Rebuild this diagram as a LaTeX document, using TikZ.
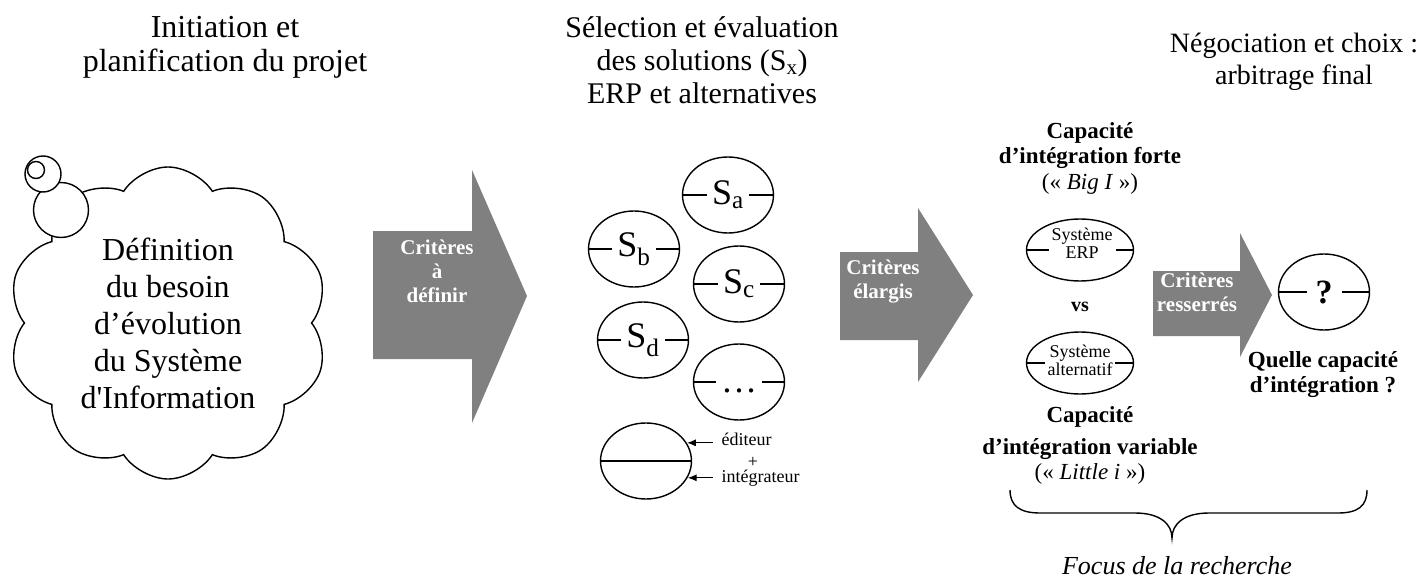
\documentclass[tikz,border=0pt]{standalone}
\usepackage{fontspec}
\setmainfont{Liberation Serif}[Ligatures=TeXOff]
\usepackage{tikz}
\usetikzlibrary{positioning,shapes.geometric,shapes.symbols,arrows.meta}

\definecolor{gris}{RGB}{128,128,128}

\tikzset{
  titre/.style={align=center,font=\fontsize{30}{33}\selectfont},
  fleche/.style={fill=gris},
  critere/.style={align=center,text=white,font=\bfseries\fontsize{21}{24}\selectfont},
  sol/.style={ellipse,draw,line width=1.4pt,minimum width=91pt,minimum height=76pt,inner sep=0pt},
  solnom/.style={fill=white,inner xsep=5pt,inner ysep=1pt,font=\fontsize{36}{36}\selectfont},
  systeme/.style={ellipse,draw,line width=1.4pt,minimum width=107pt,minimum height=62pt,inner sep=0pt},
  sysnom/.style={fill=white,align=center,inner xsep=3pt,inner ysep=0pt,font=\fontsize{18}{18}\selectfont},
  capa/.style={align=center,font=\bfseries\fontsize{23}{25}\selectfont},
  legende/.style={inner sep=0pt,font=\fontsize{18}{18}\selectfont},
  legfleche/.style={-{Latex[length=9pt,width=7pt]},line width=1.2pt}
}

\begin{document}
\begin{tikzpicture}[x=1pt,y=-1pt,line width=1.4pt]
\useasboundingbox (0,0) rectangle (1417,583);

% titres des trois phases
\node[titre,font=\fontsize{32}{34}\selectfont] (t1) at (225,47) {Initiation et\\planification du projet};
\node[titre] (t2) at (702,60) {Sélection et évaluation\\des solutions (S\textsubscript{x})\\ERP et alternatives};
\node[titre,font=\fontsize{28}{32}\selectfont] (t3) at (1294,62) {Négociation et choix :\\arbitrage final};

% nuage du besoin
\node[cloud,draw,fill=white,cloud puffs=10,cloud puff arc=115,aspect=1,
  minimum width=320pt,minimum height=312pt,inner sep=0pt,
  align=center,font=\fontsize{32}{37}\selectfont] (besoin) at (168,323)
  {Définition\\du besoin\\d’évolution\\du Système\\d'Information};
\node[circle,draw,fill=white,minimum size=55pt,inner sep=0pt] (bulleA) at (61,210) {};
\node[circle,draw,fill=white,minimum size=36pt,inner sep=0pt] (bulleB) at (43,174) {};
\node[circle,draw,fill=white,minimum size=17pt,inner sep=0pt] (bulleC) at (36,170) {};

% fleche 1
\fill[fleche] (373,231) -- (472,231) -- (472,170) -- (527,296) -- (472,423) -- (472,359) -- (373,359) -- cycle;
\node[critere] (c1) at (437,271) {Critères\\à\\définir};

% solutions
\node[sol] (sa) at (728,195) {};
\draw (sa.west) -- (sa.east);
\node[solnom] at (sa) {S\textsubscript{a}};
\node[sol] (sb) at (634,249) {};
\draw (sb.west) -- (sb.east);
\node[solnom] at (sb) {S\textsubscript{b}};
\node[sol] (sc) at (739,284) {};
\draw (sc.west) -- (sc.east);
\node[solnom] at (sc) {S\textsubscript{c}};
\node[sol] (sd) at (643,340) {};
\draw (sd.west) -- (sd.east);
\node[solnom] at (sd) {S\textsubscript{d}};
\node[sol] (sx) at (739,382) {};
\draw (sx.west) -- (sx.east);
\node[solnom,anchor=south,text height=14pt,text depth=0pt] at (739,394) {\dots};

% legende
\node[sol] (leg) at (646,461) {};
\draw (leg.west) -- (leg.east);
\node[legende,anchor=west] (editeur) at (721,439) {éditeur};
\node[legende] (plus) at (753,462) {+};
\node[legende,anchor=west] (integ) at (721,478) {intégrateur};
\draw[legfleche] ([xshift=-8pt]editeur.west |- leg.24) -- (leg.24);
\draw[legfleche] ([xshift=-8pt]integ.west |- leg.-22) -- (leg.-22);

% fleche 2
\fill[fleche] (840,252) -- (918,252) -- (918,208) -- (973,295) -- (918,382) -- (918,340) -- (840,340) -- cycle;
\node[critere] (c2) at (883,282) {Critères\\élargis};

% arbitrage
\node[capa] (forte) at (1090,158) {Capacité\\d’intégration forte\\[1pt]\mdseries(« \textit{Big I} »)};
\node[systeme] (erp) at (1080,250) {};
\draw (erp.west) -- (erp.east);
\node[sysnom] at (1082,243) {Système\\ERP};
\node[font=\bfseries\fontsize{20}{20}\selectfont] (vs) at (1080,307) {vs};
\node[systeme] (alt) at (1080,363) {};
\draw (alt.west) -- (alt.east);
\node[sysnom] at (1080,360) {Système\\alternatif};
\node[capa] (variable) at (1090,445) {Capacité\\[7pt]d’intégration variable\\\mdseries(« \textit{Little i} »)};

% fleche 3
\fill[fleche] (1153,271) -- (1240,271) -- (1240,233) -- (1272,295) -- (1240,357) -- (1240,336) -- (1153,336) -- cycle;
\node[critere] (c3) at (1197,292) {Critères\\resserrés};

% choix final
\node[sol] (choix) at (1324,292) {};
\draw (choix.west) -- (choix.east);
\node[solnom,font=\bfseries\fontsize{34}{34}\selectfont,inner xsep=9pt] at (choix) {?};
\node[capa] (quelle) at (1323,375) {Quelle capacité\\d’intégration ?};

% accolade
\draw (1010,490) .. controls (1010,506) and (1020,513) .. (1040,513) -- (1135,513)
  .. controls (1160,513) and (1172,524) .. (1172,538)
  .. controls (1172,524) and (1184,513) .. (1209,513) -- (1338,513)
  .. controls (1358,513) and (1367,506) .. (1367,490);
\node[font=\itshape\fontsize{26}{26}\selectfont] (focus) at (1177,566) {Focus de la recherche};
\end{tikzpicture}
\end{document}
